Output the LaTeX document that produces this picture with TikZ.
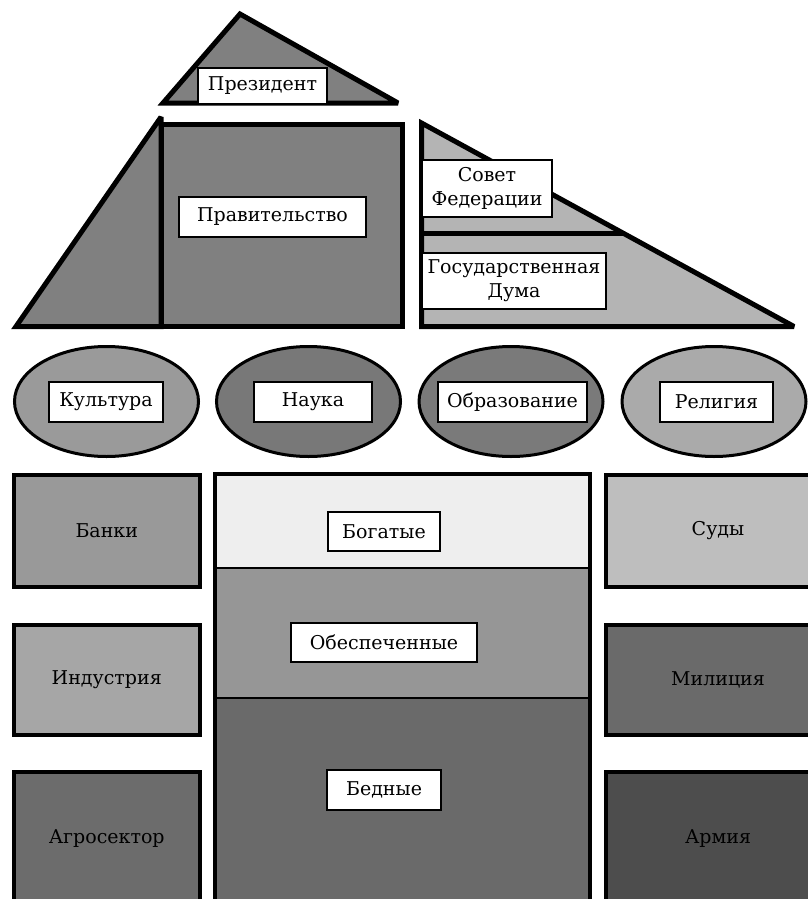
\documentclass[tikz,border=0pt]{standalone}
\usepackage{fontspec}
\setmainfont{DejaVu Serif}
\usetikzlibrary{shapes.geometric}
\definecolor{gPres}{HTML}{808080}
\definecolor{gGov}{HTML}{808080}
\definecolor{gFed}{HTML}{B4B4B4}
\definecolor{gKult}{HTML}{9A9A9A}
\definecolor{gNauka}{HTML}{787878}
\definecolor{gObr}{HTML}{7A7A7A}
\definecolor{gRel}{HTML}{AAAAAA}
\definecolor{gBank}{HTML}{999999}
\definecolor{gInd}{HTML}{A6A6A6}
\definecolor{gAgro}{HTML}{6C6C6C}
\definecolor{gSud}{HTML}{BEBEBE}
\definecolor{gMil}{HTML}{6A6A6A}
\definecolor{gArm}{HTML}{4D4D4D}
\definecolor{gRich}{HTML}{EEEEEE}
\definecolor{gMid}{HTML}{969696}
\definecolor{gPoor}{HTML}{6A6A6A}
\begin{document}
\begin{tikzpicture}[x=1pt,y=-1pt,
  txt/.style={font=\fontsize{19}{24}\selectfont},
  lbl/.style={draw, line width=2pt, fill=white, inner sep=0pt, txt, align=center},
  blk/.style={draw, line width=4pt, inner sep=0pt, txt},
  layer/.style={draw, line width=2pt, inner sep=0pt, minimum width=373pt},
  ell/.style={ellipse, draw, line width=3pt, inner sep=0pt, minimum width=184pt, minimum height=110pt},
  tri/.style={draw, line width=5pt, line join=miter, miter limit=3}]
\useasboundingbox (0,0) rectangle (807,899);
% President triangle
\draw[tri, fill=gPres] (240,14) -- (163,103) -- (398,103) -- cycle;
% Government
\draw[tri, fill=gGov] (16,326.5) -- (161,117) -- (161,326.5) -- cycle;
\node[draw, line width=5pt, fill=gGov, inner sep=0pt, minimum width=241pt, minimum height=202pt] (gov) at (281.5,225.5) {};
% Federal assembly
\draw[tri, fill=gFed] (421.5,123) -- (794,326.5) -- (421.5,326.5) -- cycle;
\coordinate (fedL) at (421.5,233.7);
\coordinate (fedR) at (623,233.7);
\draw[line width=5pt] (fedL) -- (fedR);
% labels top
\node[lbl, minimum width=129pt, minimum height=36pt] (pres) at (262.5,86) {Президент};
\node[lbl, minimum width=187pt, minimum height=40pt] (govl) at (272.5,217) {Правительство};
\node[lbl, minimum width=130pt, minimum height=57pt] (sf) at (487,188.5) {Совет\\Федерации};
\node[lbl, minimum width=184pt, minimum height=56pt] (gd) at (514,281) {Государственная\\Дума};
% ellipses
\node[ell, fill=gKult] (e1) at (106.5,401.5) {};
\node[ell, fill=gNauka] (e2) at (308.5,401.5) {};
\node[ell, fill=gObr] (e3) at (511,401.5) {};
\node[ell, fill=gRel] (e4) at (714,401.5) {};
\node[lbl, minimum width=114pt, minimum height=40pt] (kult) at (106,402) {Культура};
\node[lbl, minimum width=118pt, minimum height=40pt] (nauka) at (313,402) {Наука};
\node[lbl, minimum width=149pt, minimum height=40pt] (obr) at (512.5,402) {Образование};
\node[lbl, minimum width=113pt, minimum height=40pt] (rel) at (716.5,402) {Религия};
% left column
\node[blk, fill=gBank, minimum width=185.5pt, minimum height=112pt] (bank) at (106.75,531) {Банки};
\node[blk, fill=gInd, minimum width=185.5pt, minimum height=110.5pt] (ind) at (106.75,679.75) {Индустрия};
\node[blk, fill=gAgro, minimum width=185.5pt, minimum height=135pt] (agro) at (106.75,839) {Агросектор};
% right column
\node[blk, fill=gSud, minimum width=224pt, minimum height=112pt] (sud) at (718,531) {Суды};
\node[blk, fill=gMil, minimum width=224pt, minimum height=110.5pt] (mil) at (718,679.75) {Милиция};
\node[blk, fill=gArm, minimum width=224pt, minimum height=135pt] (arm) at (718,839) {Армия};
% middle column
\node[layer, fill=gRich, minimum height=92.5pt] (rich) at (402,521.25) {};
\node[layer, fill=gMid, minimum height=130pt] (mid) at (402,632.5) {};
\node[layer, fill=gPoor, minimum height=212.5pt] (poor) at (402,803.75) {};
\draw[line width=4pt] (rich.north west) rectangle (poor.south east);
\node[lbl, minimum width=112pt, minimum height=39pt] (richl) at (384,531.5) {Богатые};
\node[lbl, minimum width=186pt, minimum height=39pt] (midl) at (384,642.5) {Обеспеченные};
\node[lbl, minimum width=114pt, minimum height=40pt] (poorl) at (384,790) {Бедные};
\end{tikzpicture}
\end{document}
